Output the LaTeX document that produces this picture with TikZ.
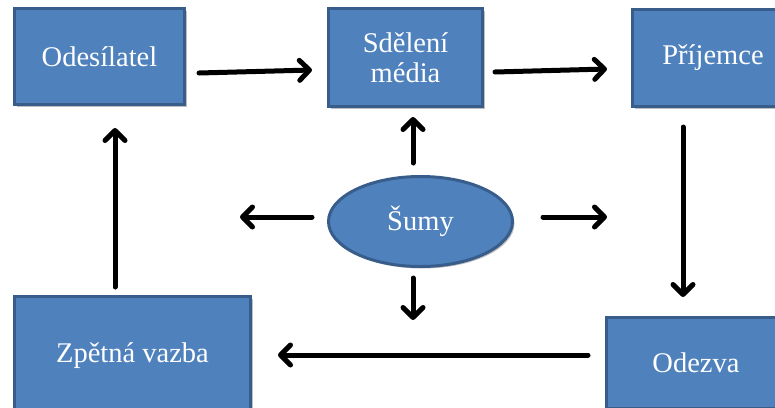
\documentclass[tikz,border=0pt]{standalone}
\usepackage{fontspec}
\setmainfont{Liberation Serif}
\usetikzlibrary{arrows.meta,calc,shadows,shapes.geometric}
\definecolor{boxfill}{HTML}{4F81BD}
\definecolor{boxline}{HTML}{385D8A}
\begin{document}
\begin{tikzpicture}[x=1pt,y=-1pt,
  blk/.style={draw=boxline, fill=boxfill, line width=3pt, text=white,
    font=\fontsize{28.5}{30}\selectfont, inner sep=0pt, align=center,
    drop shadow={shadow xshift=2pt, shadow yshift=-2pt, opacity=0.25, fill=black}},
  arr/.style={line width=5pt, line cap=round,
    -{Straight Barb[length=10pt,width=20pt,line cap=round,line join=round]}}]
\useasboundingbox (0,0) rectangle (775,407);
\clip (0,0) rectangle (775,407);
\node[blk, minimum width=170pt, minimum height=96pt] (ode) at (99.5,56.5) {Odesílatel};
\node[blk, minimum width=154pt, minimum height=98pt] (sde) at (405.5,57.5) {Sdělení\\média};
\node[blk, minimum width=161pt, minimum height=97pt] (pri) at (713,58) {Příjemce};
\node[blk, ellipse, minimum width=184pt, minimum height=90pt] (sum) at (420.5,221.5) {Šumy};
\node[blk, minimum width=236pt, minimum height=119pt] (zpe) at (132.5,356) {Zpětná vazba};
\node[blk, minimum width=179pt, minimum height=91pt] (odz) at (696,363) {Odezva};
\coordinate (sl) at ($(sum.west)+(-87,-4.5)$);
\coordinate (sr) at ($(sum.east)+(93,-4.5)$);
\coordinate (sd) at ($(sum.south)+(-7.5,52)$);
\draw[arr] ($(ode.east)+(13,16.5)$) -- ($(sde.west)+(-15,12.5)$);
\draw[arr] ($(sde.east)+(11,14.5)$) -- ($(pri.west)+(-24,11)$);
\draw[arr] ($(pri.south)+(-30,19)$) -- ($(odz.north)+(-13,-19)$);
\draw[arr] ($(odz.west)+(-17,-8)$) -- ($(zpe.east)+(26,-1)$);
\draw[arr] ($(zpe.north)+(-17.5,-8)$) -- ($(ode.south)+(15.5,22)$);
\draw[arr] ($(sum.north)+(-7.5,-12)$) -- ($(sde.south)+(7.5,9)$);
\draw[arr] ($(sum.west)+(-15,-4.5)$) -- (sl);
\draw[arr] ($(sum.east)+(29,-4.5)$) -- (sr);
\draw[arr] ($(sum.south)+(-7.5,10)$) -- (sd);
\end{tikzpicture}
\end{document}
